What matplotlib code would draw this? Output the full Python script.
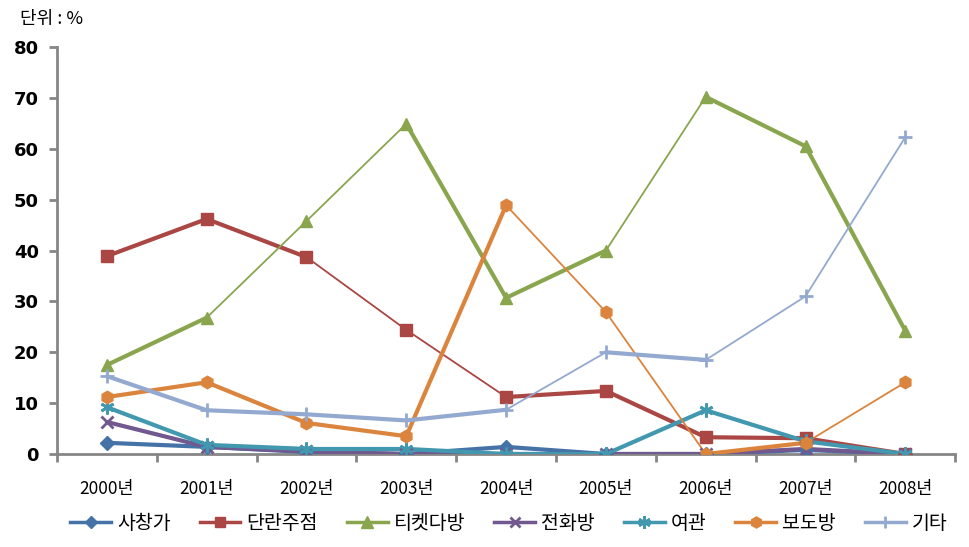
import matplotlib
matplotlib.use('Agg')
import matplotlib.pyplot as plt
from matplotlib.lines import Line2D

plt.rcParams['font.family'] = ['Noto Sans CJK KR', 'DejaVu Sans']

years = ['2000년', '2001년', '2002년', '2003년', '2004년', '2005년', '2006년', '2007년', '2008년']

sachangga = [2.2, 1.4, 0.4, 0.0, 1.4, 0.0, 0.0, 0.8, 0.0]
danran = [38.9, 46.2, 38.7, 24.4, 11.2, 12.4, 3.3, 3.1, 0.0]
ticket = [17.5, 26.8, 45.8, 64.9, 30.7, 40.0, 70.2, 60.5, 24.2]
phone = [6.3, 1.4, 0.5, 0.0, 0.0, 0.0, 0.0, 1.0, 0.0]
motel = [9.2, 1.8, 1.0, 1.0, 0.0, 0.0, 8.6, 2.5, 0.0]
bodo = [11.2, 14.1, 6.1, 3.5, 48.9, 27.9, 0.0, 2.2, 14.1]
etc = [15.3, 8.6, 7.8, 6.6, 8.7, 20.0, 18.5, 31.0, 62.3]

# (label, values, color, marker, marker size, thick flag per segment)
T, t = 1, 0
series = [
    ('사창가', sachangga, '#4572A7', 'D', 7, [T, T, T, T, T, T, T, T]),
    ('단란주점', danran, '#AA4643', 's', 8, [T, T, t, t, T, T, T, T]),
    ('티켓다방', ticket, '#89A54E', '^', 9, [T, t, t, T, T, t, T, T]),
    ('전화방', phone, '#71588F', 'x', 8, [T, T, T, T, T, T, T, T]),
    ('여관', motel, '#4198AF', (6, 2, 0), 10, [T, T, T, T, T, T, T, T]),
    ('보도방', bodo, '#DB843D', 'h', 9, [T, T, T, T, t, t, T, t]),
    ('기타', etc, '#93A9CF', '+', 10, [T, T, T, T, t, T, t, t]),
]

fig = plt.figure(figsize=(9.69, 5.47), dpi=100)
ax = fig.add_axes([0.0588, 0.170, 0.927, 0.744])

x = list(range(len(years)))
handles = []
for label, vals, color, marker, ms, thick in series:
    for i in range(len(vals) - 1):
        lw = 3.0 if thick[i] else 1.3
        ax.plot(x[i:i + 2], vals[i:i + 2], color=color, lw=lw,
                solid_capstyle='round', zorder=2)
    mew = 2 if marker in ('x', '+', (6, 2, 0)) else 1
    ax.plot(x, vals, linestyle='none', marker=marker, markersize=ms,
            color=color, markeredgecolor=color, markeredgewidth=mew, zorder=3)
    handles.append(Line2D([], [], color=color, lw=2.5, marker=marker,
                          markersize=ms - 1, markeredgewidth=mew,
                          markeredgecolor=color, label=label))

ax.set_xlim(-0.5, 8.5)
ax.set_ylim(0, 80)
ax.set_yticks(range(0, 81, 10))
ax.set_xticks(x)
ax.set_xticklabels(years)
ax.set_xticks([i - 0.5 for i in range(len(years) + 1)], minor=True)

for s in ('top', 'right'):
    ax.spines[s].set_visible(False)
for s in ('left', 'bottom'):
    ax.spines[s].set_color('#868686')
    ax.spines[s].set_linewidth(2)
    ax.spines[s].set_zorder(1)

ax.tick_params(axis='y', direction='out', length=6, width=2, color='#868686',
               labelsize=13, pad=7)
ax.tick_params(axis='x', which='major', length=0, labelsize=12.5, pad=19)
ax.tick_params(axis='x', which='minor', direction='out', length=6, width=2,
               color='#868686')
for lab in ax.get_yticklabels():
    lab.set_fontweight('bold')
    lab.set_family(['DejaVu Sans'])
for lab in ax.get_xticklabels():
    lab.set_fontweight('medium')

fig.text(0.021, 0.965, '단위 : %', fontsize=13, ha='left', va='center')

fig.legend(handles=handles, loc='center', bbox_to_anchor=(0.525, 0.043), ncol=7,
           frameon=False, fontsize=14, handlelength=2.1, handletextpad=0.3,
           columnspacing=1.5)

fig.savefig('out.png', dpi=100)
